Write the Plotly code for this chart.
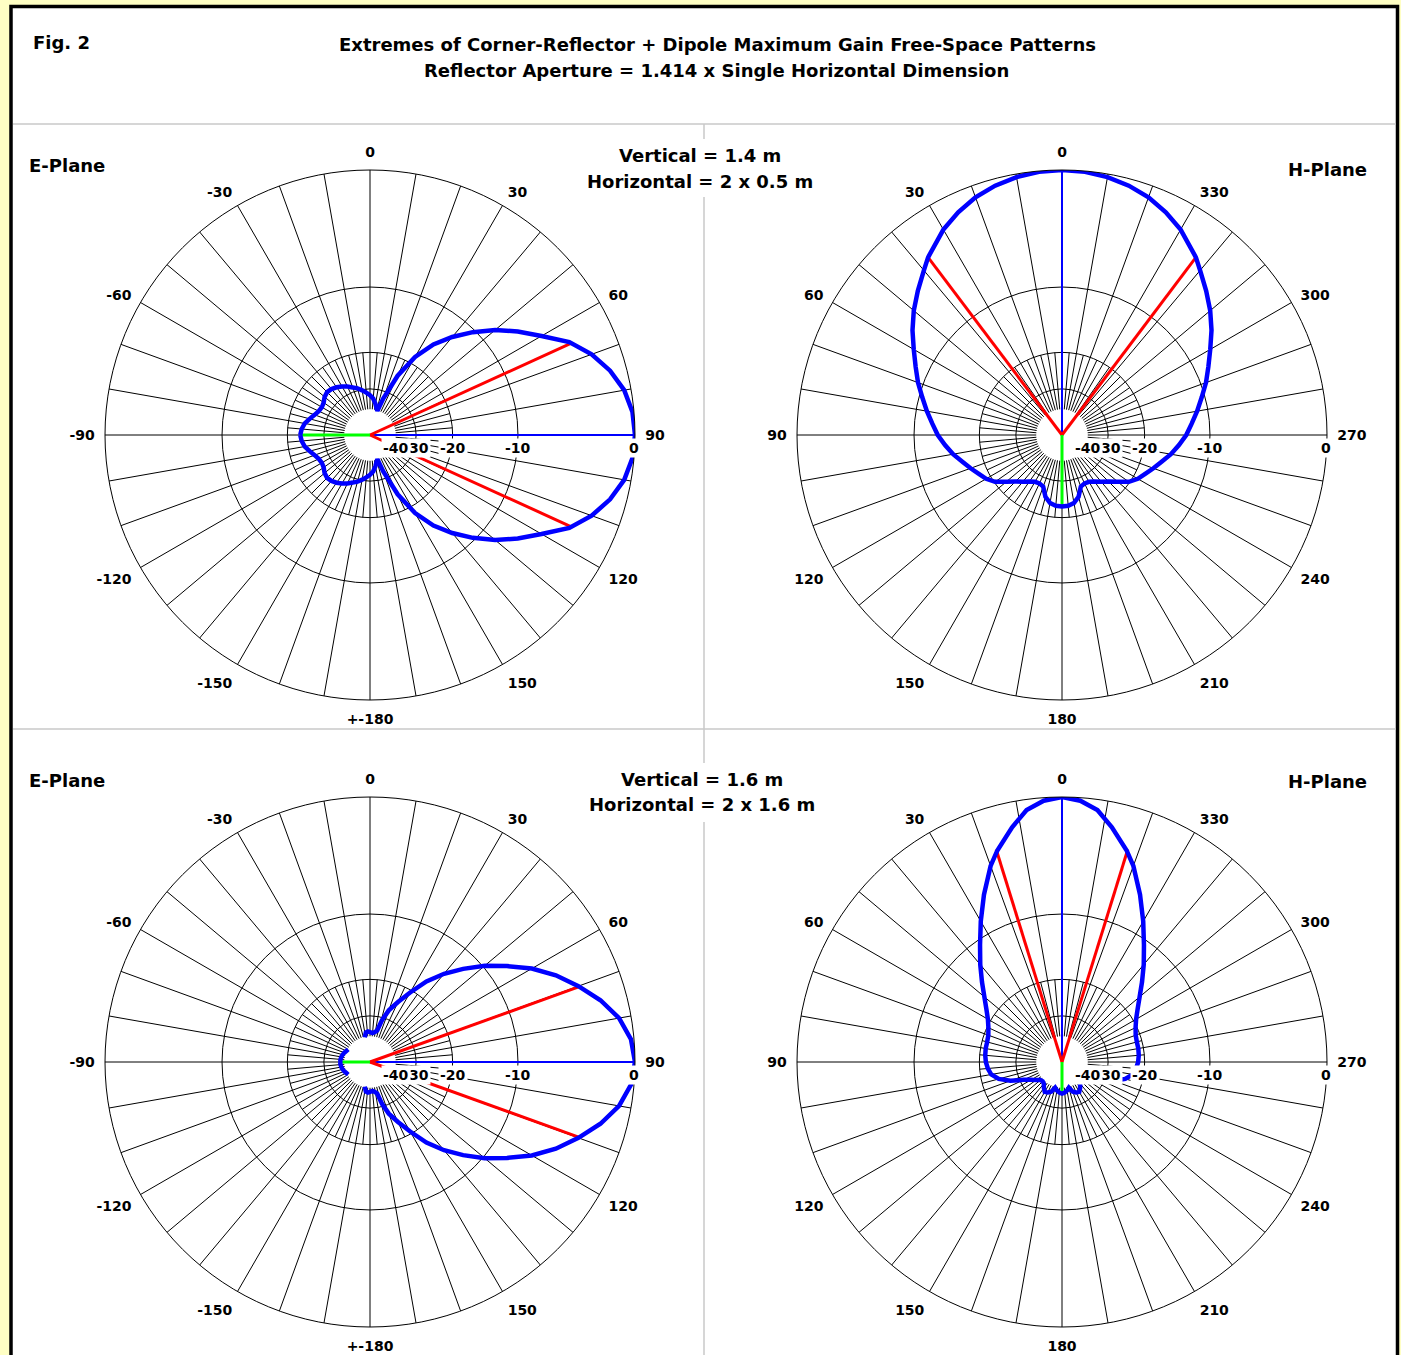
import numpy as np
import plotly.graph_objects as go

W, H = 1401, 1355
R_PX = 265                      # outer (0 dB) radius in pixels
FONT = "DejaVu Sans"

# ---------------- data ----------------
# Top-left: E-plane, Vertical = 1.4 m (angles clockwise from top, symmetric about 90/-90 axis)
E1_ANG = [-90, -85, -80, -75, -70, -65, -60, -55, -50, -45, -40, -35, -30, -25, -20, -15,
          -10, -5, 0, 5, 10, 14, 17, 20, 25, 30, 35, 40, 45, 50, 55, 60, 65, 70, 75, 80, 85, 90]
E1_DB = [-22.9, -23.2, -23.8, -24.8, -25.8, -26.5, -26.8, -26.5, -25.7, -25.3, -25.5, -26.0,
         -26.7, -27.5, -28.4, -29.2, -30.3, -31.4, -32.5, -34.0, -36.5, -39.0, -40.3, -33.0,
         -24.0, -18.5, -15.0, -12.5, -10.3, -8.3, -6.6, -5.0, -3.2, -2.0, -1.1, -0.45, -0.1, 0.0]
E1_HALF_POWER = [65.5, 114.5]
E1_MAX, E1_BACK, E1_BACK_DB = 90, -90, -22.9

# Top-right: H-plane, Vertical = 1.4 m (angles counter-clockwise from top, symmetric about 0/180 axis)
H1_ANG = [0, 5, 10, 15, 20, 25, 30, 37, 40, 45, 50, 55, 60, 65, 70, 75, 80, 85, 90, 95, 100,
          105, 110, 115, 120, 125, 130, 135, 140, 145, 150, 155, 160, 165, 170, 175, 180]
H1_DB = [0.0, -0.05, -0.2, -0.45, -0.8, -1.3, -1.9, -3.0, -3.6, -4.5, -5.4, -6.4, -7.5, -8.5,
         -9.4, -10.4, -11.3, -12.2, -13.0, -14.0, -15.0, -16.2, -17.2, -18.2, -19.0, -20.2,
         -22.2, -23.9, -25.2, -26.4, -27.3, -27.5, -27.0, -24.4, -23.1, -22.6, -22.5]
H1_HALF_POWER = [37.0, 323.0]
H1_MAX, H1_BACK, H1_BACK_DB = 0, 180, -22.5

# Bottom-left: E-plane, Vertical = 1.6 m
E2_ANG = [-90, -85, -80, -75, -70, -65, -60, -55, -45, -35, -25, -15, -12, -8, -4, 0, 5, 10,
          13, 16, 20, 25, 30, 35, 40, 45, 50, 55, 60, 65, 70, 75, 80, 85, 90]
E2_DB = [-37.5, -37.6, -37.9, -38.4, -39.0, -39.8, -40.4, -45.0, -45.0, -45.0, -45.0, -45.0,
         -40.4, -37.5, -37.0, -37.5, -38.0, -37.0, -36.0, -31.0, -27.0, -23.8, -20.5, -17.0,
         -14.3, -12.0, -9.8, -7.9, -6.0, -4.4, -3.05, -1.8, -0.8, -0.2, 0.0]
E2_HALF_POWER = [70.2, 109.8]
E2_MAX, E2_BACK, E2_BACK_DB = 90, -90, -37.5

# Bottom-right: H-plane, Vertical = 1.6 m
H2_ANG = [0, 4, 8, 12, 17, 20, 25, 30, 35, 40, 45, 50, 55, 60, 65, 70, 75, 80, 85, 90, 95,
          100, 105, 110, 115, 120, 125, 130, 135, 140, 145, 150, 155, 160, 165, 170, 175, 180]
H2_DB = [0.0, -0.2, -0.7, -1.7, -3.1, -4.1, -6.2, -8.4, -10.6, -12.6, -14.6, -16.5, -18.1,
         -19.4, -20.3, -20.9, -21.1, -21.1, -21.2, -21.4, -21.8, -22.4, -24.0, -27.0, -31.5,
         -34.5, -36.5, -38.5, -39.0, -38.4, -36.5, -35.0, -35.5, -36.5, -39.5, -38.0, -37.0, -36.5]
H2_HALF_POWER = [17.2, 342.8]
H2_MAX, H2_BACK, H2_BACK_DB = 0, 180, -36.5

RINGS_DB = [-10, -20, -30]
FLOOR_DB = -40
# radial scale labels as they appear (the "-" of -30 is hidden behind the -40 label)
RADIAL_LABEL_DB = [0, -10, -20, -30, -40]
RADIAL_LABEL_TXT = ["0", "-10", "-20", "30", "-40"]

E_TICKVALS = [0, 30, 60, 90, 120, 150, 180, 210, 240, 270, 300, 330]
E_TICKTEXT = ["0", "30", "60", "90", "120", "150", "+-180", "-150", "-120", "-90", "-60", "-30"]
H_TICKTEXT = ["0", "30", "60", "90", "120", "150", "180", "210", "240", "270", "300", "330"]

TITLE1 = "Extremes of Corner-Reflector + Dipole Maximum Gain Free-Space Patterns"
TITLE2 = "Reflector Aperture = 1.414 x Single Horizontal Dimension"
SIZES_TOP = ["Vertical = 1.4 m", "Horizontal = 2 x 0.5 m"]
SIZES_BOT = ["Vertical = 1.6 m", "Horizontal = 2 x 1.6 m"]


# ---------------- helpers ----------------
def arrl(db):
    """ARRL log-periodic radial scale: radius shrinks by 0.89 every 2 dB."""
    return float(0.89 ** (-float(db) / 2.0))


def mirror_e(ang, db):
    a = list(ang) + [180 - x for x in reversed(ang)]
    d = list(db) + list(reversed(db))
    return a, d


def mirror_h(ang, db):
    a = list(ang) + [360 - x for x in reversed(ang)]
    d = list(db) + list(reversed(db))
    return a, d


def px2paper(x, y):
    return x / W, 1 - y / H


fig = go.Figure()

PLOTS = [
    dict(name="polar", cx=370, cy=435, kind="E", ang=E1_ANG, db=E1_DB, hp=E1_HALF_POWER,
         mx=E1_MAX, back=E1_BACK, back_db=E1_BACK_DB),
    dict(name="polar2", cx=1062, cy=435, kind="H", ang=H1_ANG, db=H1_DB, hp=H1_HALF_POWER,
         mx=H1_MAX, back=H1_BACK, back_db=H1_BACK_DB),
    dict(name="polar3", cx=370, cy=1062, kind="E", ang=E2_ANG, db=E2_DB, hp=E2_HALF_POWER,
         mx=E2_MAX, back=E2_BACK, back_db=E2_BACK_DB),
    dict(name="polar4", cx=1062, cy=1062, kind="H", ang=H2_ANG, db=H2_DB, hp=H2_HALF_POWER,
         mx=H2_MAX, back=H2_BACK, back_db=H2_BACK_DB),
]

annotations = []
shapes = []

for p in PLOTS:
    sp = p["name"]
    # spokes: every 10 deg from the -40 dB ring to the rim, extra ones every 5 deg inside -20 dB
    th, rr = [], []
    for a in range(0, 360, 10):
        th += [a, a, None]
        rr += [arrl(FLOOR_DB), 1.0, None]
    for a in range(5, 360, 10):
        th += [a, a, None]
        rr += [arrl(FLOOR_DB), arrl(-20), None]
    fig.add_trace(go.Scatterpolar(r=rr, theta=th, mode="lines", subplot=sp,
                                  line=dict(color="black", width=1), hoverinfo="skip",
                                  showlegend=False, cliponaxis=False))
    # max gain ray (blue)
    fig.add_trace(go.Scatterpolar(r=[0, arrl(0)], theta=[p["mx"], p["mx"]], mode="lines",
                                  subplot=sp, line=dict(color="#0000FF", width=2),
                                  showlegend=False, cliponaxis=False))
    # half power rays (red)
    for a in p["hp"]:
        fig.add_trace(go.Scatterpolar(r=[0, arrl(-3)], theta=[a, a], mode="lines",
                                      subplot=sp, line=dict(color="#FF0000", width=3),
                                      showlegend=False, cliponaxis=False))
    # back ray (green)
    fig.add_trace(go.Scatterpolar(r=[0, arrl(p["back_db"])], theta=[p["back"], p["back"]],
                                  mode="lines", subplot=sp,
                                  line=dict(color="#00FF00", width=3),
                                  showlegend=False, cliponaxis=False))
    # pattern
    if p["kind"] == "E":
        a_full, d_full = mirror_e(p["ang"], p["db"])
    else:
        a_full, d_full = mirror_h(p["ang"], p["db"])
    r_full = [arrl(d) if d >= FLOOR_DB - 0.5 else None for d in d_full]
    fig.add_trace(go.Scatterpolar(r=r_full, theta=a_full, mode="lines", subplot=sp,
                                  line=dict(color="#0000FF", width=4.5),
                                  connectgaps=False, showlegend=False, cliponaxis=False))

    cx, cy = p["cx"], p["cy"]
    x0, y1 = px2paper(cx - R_PX, cy - R_PX)
    x1, y0 = px2paper(cx + R_PX, cy + R_PX)
    fig.layout[sp] = dict(
        domain=dict(x=[x0, x1], y=[y0, y1]),
        bgcolor="white",
        radialaxis=dict(range=[0, 1], tickvals=[arrl(d) for d in RINGS_DB],
                        showticklabels=False, ticks="", showline=False,
                        gridcolor="black", gridwidth=1),
        angularaxis=dict(rotation=90,
                         direction="clockwise" if p["kind"] == "E" else "counterclockwise",
                         tickmode="array", tickvals=E_TICKVALS,
                         ticktext=E_TICKTEXT if p["kind"] == "E" else H_TICKTEXT,
                         ticks="outside", ticklen=7, tickcolor="rgba(0,0,0,0)",
                         showgrid=False, showline=True, linecolor="black",
                         linewidth=1,
                         tickfont=dict(family=FONT, size=14, color="black", weight="bold")),
    )
    # radial scale labels under the horizontal axis, on white boxes
    for d, t in zip(RADIAL_LABEL_DB, RADIAL_LABEL_TXT):
        lx = cx + R_PX * arrl(d)
        if d == 0:
            lx -= 1
        if t == "30":
            lx += 3
        ax_, ay_ = px2paper(lx, cy + 13)
        annotations.append(dict(x=ax_, y=ay_, xref="paper", yref="paper", text=t,
                                showarrow=False, xanchor="center", yanchor="middle",
                                bgcolor="white", borderpad=1,
                                font=dict(family=FONT, size=14, color="black", weight="bold")))

# frame and separators (pixel coordinates converted to paper)
def line_px(xa, ya, xb, yb, color, width):
    (pa, qa), (pb, qb) = px2paper(xa, ya), px2paper(xb, yb)
    shapes.append(dict(type="line", xref="paper", yref="paper", x0=pa, y0=qa, x1=pb, y1=qb,
                       line=dict(color=color, width=width), layer="below"))

fx0, fy0 = px2paper(11, 6.5)
fx1, fy1 = px2paper(1397.5, 1400)
shapes.append(dict(type="rect", xref="paper", yref="paper", x0=fx0, y0=fy1, x1=fx1, y1=fy0,
                   fillcolor="white", line=dict(color="black", width=3.5), layer="below"))
GRAY = "#C8C8C8"
line_px(13, 124, 1396, 124, GRAY, 1.5)
line_px(13, 729, 1396, 729, GRAY, 1.5)
line_px(704, 124, 704, 139, GRAY, 1.5)
line_px(704, 197, 704, 729, GRAY, 1.5)
line_px(704, 729, 704, 763, GRAY, 1.5)
line_px(704, 822, 704, 1360, GRAY, 1.5)


def text_px(x, y, s, anchor="center", size=18):
    ax_, ay_ = px2paper(x, y)
    annotations.append(dict(x=ax_, y=ay_, xref="paper", yref="paper", text=s,
                            showarrow=False, xanchor=anchor, yanchor="middle",
                            font=dict(family=FONT, size=size, color="black", weight="bold")))


text_px(31, 42, "Fig. 2", "left")
text_px(717, 45, TITLE1)
text_px(716, 71, TITLE2)
text_px(27, 165, "E-Plane", "left")
text_px(1369, 170, "H-Plane", "right")
text_px(27, 780, "E-Plane", "left")
text_px(1369, 782, "H-Plane", "right")
text_px(700, 155, SIZES_TOP[0])
text_px(700, 182, SIZES_TOP[1])
text_px(702, 779, SIZES_BOT[0])
text_px(702, 805, SIZES_BOT[1])

fig.update_layout(width=W, height=H, autosize=False,
                  margin=dict(l=0, r=0, t=0, b=0),
                  paper_bgcolor="#FFFFC4", plot_bgcolor="white",
                  showlegend=False, annotations=annotations, shapes=shapes)

fig.write_html("out.html", post_script="document.body.style.margin='0px';",
               config={"displayModeBar": False})
